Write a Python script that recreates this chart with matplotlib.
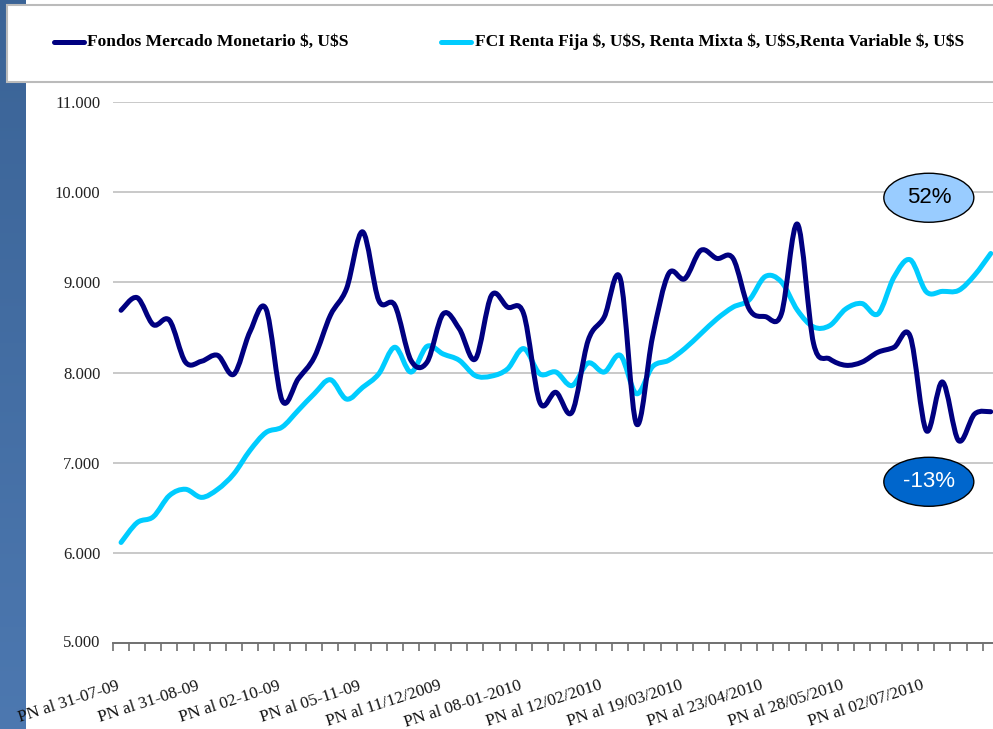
import numpy as np
import matplotlib
matplotlib.use('Agg')
import matplotlib.pyplot as plt
from matplotlib.path import Path
from matplotlib.patches import PathPatch, Ellipse, Rectangle
from matplotlib.lines import Line2D

# weekly net worth (PN), 55 weeks
monetario = [8690, 8830, 8530, 8580, 8115, 8125, 8190, 7980, 8450, 8705,
             7690, 7930, 8170, 8635, 8930, 9560, 8800, 8745, 8135, 8115,
             8650, 8485, 8150, 8855, 8725, 8650, 7670, 7780, 7560, 8355,
             8615, 9040, 7430, 8395, 9095, 9040, 9355, 9265, 9265, 8705,
             8620, 8650, 9645, 8320, 8150, 8080, 8115, 8225, 8280, 8400,
             7355, 7895, 7245, 7540, 7565]
renta = [6115, 6335, 6400, 6635, 6705, 6615, 6705, 6875, 7135, 7335,
         7395, 7580, 7765, 7920, 7705, 7835, 7985, 8280, 8005, 8290,
         8205, 8135, 7965, 7960, 8040, 8265, 7985, 8005, 7855, 8105,
         8005, 8190, 7765, 8065, 8135, 8265, 8430, 8595, 8725, 8805,
         9065, 9005, 8690, 8505, 8520, 8705, 8765, 8650, 9060, 9250,
         8895, 8900, 8910, 9080, 9320]
label_pos = [0, 5, 10, 15, 20, 25, 30, 35, 40, 45, 50]
labels = ['PN al 31-07-09', 'PN al 31-08-09', 'PN al 02-10-09', 'PN al 05-11-09',
          'PN al 11/12/2009', 'PN al 08-01-2010', 'PN al 12/02/2010',
          'PN al 19/03/2010', 'PN al 23/04/2010', 'PN al 28/05/2010',
          'PN al 02/07/2010']
yticks = [5000, 6000, 7000, 8000, 9000, 10000, 11000]
ytick_labels = ['5.000', '6.000', '7.000', '8.000', '9.000', '10.000', '11.000']
name1 = 'Fondos Mercado Monetario $, U$S'
name2 = 'FCI Renta Fija $, U$S, Renta Mixta $, U$S,Renta Variable $, U$S'


def smooth_path(y):
    # excel-style smoothed line: bezier through every point
    x = np.arange(len(y), dtype=float)
    y = np.asarray(y, dtype=float)
    pts = np.column_stack([x, y])
    verts = [pts[0]]
    codes = [Path.MOVETO]
    n = len(pts)
    for i in range(n - 1):
        p0 = pts[max(i - 1, 0)]
        p1 = pts[i]
        p2 = pts[i + 1]
        p3 = pts[min(i + 2, n - 1)]
        c1 = p1 + (p2 - p0) / 6.0
        c2 = p2 - (p3 - p1) / 6.0
        verts += [c1, c2, p2]
        codes += [Path.CURVE4] * 3
    return Path(verts, codes)


W, H = 993, 729
fig = plt.figure(figsize=(W / 100, H / 100), dpi=100)

# blue strip on the left
strip = fig.add_axes([0, 0, 26 / W, 1])
grad = np.linspace(0, 1, 200).reshape(-1, 1)
c_top = np.array([0.23, 0.39, 0.59])
c_bot = np.array([0.30, 0.47, 0.69])
img = c_top + grad[:, :, None] * (c_bot - c_top)
strip.imshow(img, aspect='auto', extent=[0, 1, 0, 1])
strip.axis('off')

ax = fig.add_axes([113 / W, 86 / H, 885.8 / W, 541 / H])
ax.add_patch(PathPatch(smooth_path(monetario), fill=False, color='#000080',
                       lw=3.6, capstyle='round', joinstyle='round', zorder=3))
ax.add_patch(PathPatch(smooth_path(renta), fill=False, color='#00ccff',
                       lw=3.6, capstyle='round', joinstyle='round', zorder=2))

ax.set_xlim(-0.5, len(monetario) - 0.5)
ax.set_ylim(5000, 11000)
ax.set_yticks(yticks[1:])
ax.set_yticklabels(ytick_labels[1:])
ax.yaxis.grid(True, color='#c0c0c0', lw=1.2)
ax.set_axisbelow(True)
for s in ['left', 'top', 'right']:
    ax.spines[s].set_visible(False)
ax.spines['bottom'].set_color('#707070')
ax.spines['bottom'].set_linewidth(1.4)
ax.tick_params(axis='y', length=0, pad=9, labelsize=12, labelcolor='#222222')
for t in ax.get_yticklabels():
    t.set_family('Liberation Serif')
ax.text(-0.0147, 0, ytick_labels[0], transform=ax.transAxes, ha='right', va='center',
        family='Liberation Serif', fontsize=12, color='#222222')

ax.set_xticks(np.arange(-0.5, len(monetario), 1), minor=True)
ax.set_xticks(label_pos)
ax.set_xticklabels(labels, rotation=18, ha='right', family='Liberation Serif',
                   fontsize=12.3, color='#111111')
ax.tick_params(axis='x', which='major', length=0, pad=25)
ax.tick_params(axis='x', which='minor', length=6, width=1.2, color='#707070')

# percentage bubbles
ax.add_patch(Ellipse((0.921, 0.823), 0.1016, 0.0906, transform=ax.transAxes,
                     facecolor='#99ccff', edgecolor='black', lw=1, zorder=5))
ax.text(0.921, 0.823, '52%', transform=ax.transAxes, ha='center', va='center',
        family='Liberation Sans', fontsize=16, color='black', zorder=6)
ax.add_patch(Ellipse((0.921, 0.298), 0.1016, 0.0906, transform=ax.transAxes,
                     facecolor='#0066cc', edgecolor='black', lw=1, zorder=5))
ax.text(0.921, 0.298, '-13%', transform=ax.transAxes, ha='center', va='center',
        family='Liberation Sans', fontsize=16, color='white', zorder=6)

# legend box at the top
fig.add_artist(Rectangle((7 / W, (H - 82) / H), 1.0, 77 / H, transform=fig.transFigure,
                         facecolor='white', edgecolor='#bbbbbb', lw=1.5, zorder=5))
ly = (H - 42) / H
fig.add_artist(Line2D([54 / W, 84 / W], [ly, ly], color='#000080', lw=3.6,
                      solid_capstyle='round', zorder=6))
fig.text(87 / W, ly, name1, ha='left', va='center', family='Liberation Serif',
         fontweight='bold', fontsize=12.6, color='black', zorder=6, parse_math=False)
fig.add_artist(Line2D([441 / W, 471 / W], [ly, ly], color='#00ccff', lw=3.6,
                      solid_capstyle='round', zorder=6))
fig.text(475 / W, ly, name2, ha='left', va='center', family='Liberation Serif',
         fontweight='bold', fontsize=12.5, color='black', zorder=6, parse_math=False)

fig.savefig('out.png', dpi=100)
